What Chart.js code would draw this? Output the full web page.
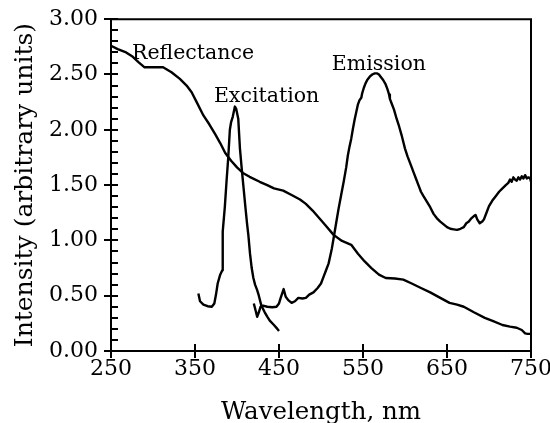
<!DOCTYPE html>
<html><head><meta charset="utf-8">
<script src="https://cdn.jsdelivr.net/npm/chart.js@4"></script>
<style>html,body{margin:0;padding:0;background:#fff}</style>
</head><body>
<canvas id="c" width="550" height="423"></canvas>
<script>
// ---- data ----
const reflX = [250,258,268,276,283,290,300,312,322,332,340,346,352,360,367,374,380,386,393,400,407,415,427,436,444,455,465,475,482,490,497,505,515,525,536,544,552,560,569,577,588,598,608,619,630,642,653,662,670,682,695,705,716,725,733,739,743,746,750];
const reflY = [2.76,2.73,2.70,2.66,2.61,2.565,2.565,2.565,2.52,2.46,2.40,2.34,2.25,2.13,2.05,1.96,1.88,1.79,1.72,1.66,1.61,1.575,1.53,1.50,1.47,1.45,1.41,1.37,1.33,1.27,1.21,1.14,1.05,0.995,0.96,0.88,0.81,0.75,0.69,0.66,0.655,0.645,0.61,0.57,0.53,0.48,0.435,0.42,0.40,0.35,0.30,0.27,0.235,0.22,0.21,0.19,0.16,0.155,0.155];

const excX = [354,356,360,365,370,373,375,377,380,382.5,383,385.5,387.5,389.5,391.5,393,395,397.5,399,401.5,403.5,405.5,407.5,410,412,413.5,415.5,417.5,419.5,421.5,424,426,429,433,436,439,444,448,450];
const excY = [0.52,0.45,0.42,0.405,0.40,0.43,0.51,0.61,0.69,0.73,1.08,1.30,1.53,1.74,2.00,2.07,2.12,2.21,2.19,2.10,1.83,1.66,1.50,1.30,1.15,1.05,0.88,0.75,0.66,0.60,0.55,0.50,0.41,0.35,0.31,0.275,0.235,0.20,0.18];

const emX = [420,422,424,426,428,431,436,442,447,450,452,455.5,458,461,465,469,473,478,482,486,491,496,500,503,506,509,511,513,515,517,519,521,524,527,530,532,534,536,538,540,542,544,546,548,549,551,553,555,558,561,564,567,569,571,574,577,579,581,582,584,587,590,593,596,598,600,603,607,610,613,616,619,622,626,630,634,638,642,646,650,654,658,662,666,670,673,676,679,682,684,686,689,692,694,697,700,704,708,712,716,720,723,725,727,729,731,733,735,737,739,741,743,745,747,749,750];
const emY = [0.43,0.37,0.31,0.35,0.40,0.41,0.40,0.395,0.40,0.43,0.48,0.56,0.49,0.46,0.435,0.45,0.48,0.475,0.48,0.51,0.53,0.57,0.61,0.67,0.73,0.79,0.86,0.93,1.02,1.11,1.20,1.29,1.41,1.53,1.66,1.77,1.85,1.92,2.01,2.09,2.16,2.23,2.27,2.29,2.33,2.38,2.42,2.45,2.48,2.50,2.51,2.51,2.50,2.48,2.45,2.41,2.37,2.32,2.28,2.24,2.18,2.10,2.03,1.95,1.89,1.83,1.76,1.68,1.62,1.56,1.50,1.44,1.40,1.35,1.30,1.24,1.20,1.17,1.145,1.12,1.105,1.10,1.095,1.105,1.12,1.155,1.17,1.20,1.22,1.23,1.19,1.155,1.17,1.19,1.25,1.31,1.36,1.40,1.44,1.47,1.50,1.52,1.55,1.53,1.57,1.55,1.54,1.57,1.55,1.58,1.56,1.59,1.56,1.57,1.56,1.53];

const xTicks = [250,350,450,550,650,750];
const yTicks = [0,0.5,1.0,1.5,2.0,2.5,3.0];
const yMinorStep = 0.1;

const curveLabels = ['Reflectance','Excitation','Emission'];
const curveLabelX = [275, 372.5, 512.9];
const curveLabelY = [2.64, 2.25, 2.545];

// ---- chart ----
const SERIF = '"DejaVu Serif", "Liberation Serif", serif';
const pts = (xs, ys) => xs.map((x, i) => ({x: x, y: ys[i]}));
const lineDs = (xs, ys) => ({data: pts(xs, ys), showLine: true, borderColor: '#000', borderWidth: 2.4,
  pointRadius: 0, tension: 0, fill: false, borderJoinStyle: 'round'});

const framePlugin = {
  id: 'frame',
  afterDraw(chart) {
    const {ctx, chartArea: a, scales: {x, y}} = chart;
    ctx.save();
    ctx.strokeStyle = '#000';
    ctx.lineWidth = 2;
    ctx.lineCap = 'butt';
    ctx.beginPath();
    ctx.moveTo(a.left - 1, a.top);
    ctx.lineTo(a.right, a.top);
    ctx.lineTo(a.right, a.bottom + 1);
    ctx.stroke();
    ctx.beginPath();
    const n = Math.round((y.max - y.min) / yMinorStep);
    for (let i = 0; i <= n; i++) {
      const py = Math.round(y.getPixelForValue(y.min + i * yMinorStep));
      ctx.moveTo(a.left, py);
      ctx.lineTo(a.left + 7, py);
    }
    xTicks.forEach(v => {
      const px = Math.round(x.getPixelForValue(v));
      ctx.moveTo(px, a.bottom);
      ctx.lineTo(px, a.bottom - 7);
    });
    ctx.stroke();
    ctx.fillStyle = '#000';
    ctx.font = '20.5px ' + SERIF;
    ctx.textAlign = 'left';
    ctx.textBaseline = 'alphabetic';
    curveLabels.forEach((t, i) => {
      ctx.fillText(t, x.getPixelForValue(curveLabelX[i]), y.getPixelForValue(curveLabelY[i]));
    });
    ctx.restore();
  }
};

new Chart(document.getElementById('c'), {
  type: 'scatter',
  data: {datasets: [lineDs(reflX, reflY), lineDs(excX, excY), lineDs(emX, emY)]},
  options: {
    responsive: false,
    animation: false,
    devicePixelRatio: 1,
    plugins: {legend: {display: false}, tooltip: {enabled: false}},
    layout: {padding: {left: 0, top: 16, right: 19, bottom: 0}},
    scales: {
      x: {
        type: 'linear', min: 250, max: 750,
        afterBuildTicks: s => { s.ticks = xTicks.map(v => ({value: v})); },
        ticks: {font: {family: SERIF, size: 22}, color: '#000', padding: -2, maxRotation: 0, autoSkip: false},
        grid: {drawOnChartArea: false, drawTicks: true, tickLength: 7, color: '#000', lineWidth: 2},
        border: {display: true, color: '#000', width: 2},
        title: {display: true, text: 'Wavelength, nm', font: {family: SERIF, size: 24.5}, color: '#000',
          padding: {top: 0, bottom: -4}},
        afterFit: s => { s.height = 72; }
      },
      y: {
        type: 'linear', min: 0, max: 3,
        afterBuildTicks: s => { s.ticks = yTicks.map(v => ({value: v})); },
        ticks: {font: {family: SERIF, size: 22}, color: '#000', padding: 6, autoSkip: false,
          callback: v => Number(v).toFixed(2)},
        grid: {drawOnChartArea: false, drawTicks: true, tickLength: 7, color: '#000', lineWidth: 2},
        border: {display: true, color: '#000', width: 2},
        title: {display: true, text: 'Intensity (arbitrary units)', font: {family: SERIF, size: 25}, color: '#000',
          padding: {top: 10, bottom: 0}},
        afterFit: s => { s.width = 111; }
      }
    }
  },
  plugins: [framePlugin]
});
</script>
</body></html>
